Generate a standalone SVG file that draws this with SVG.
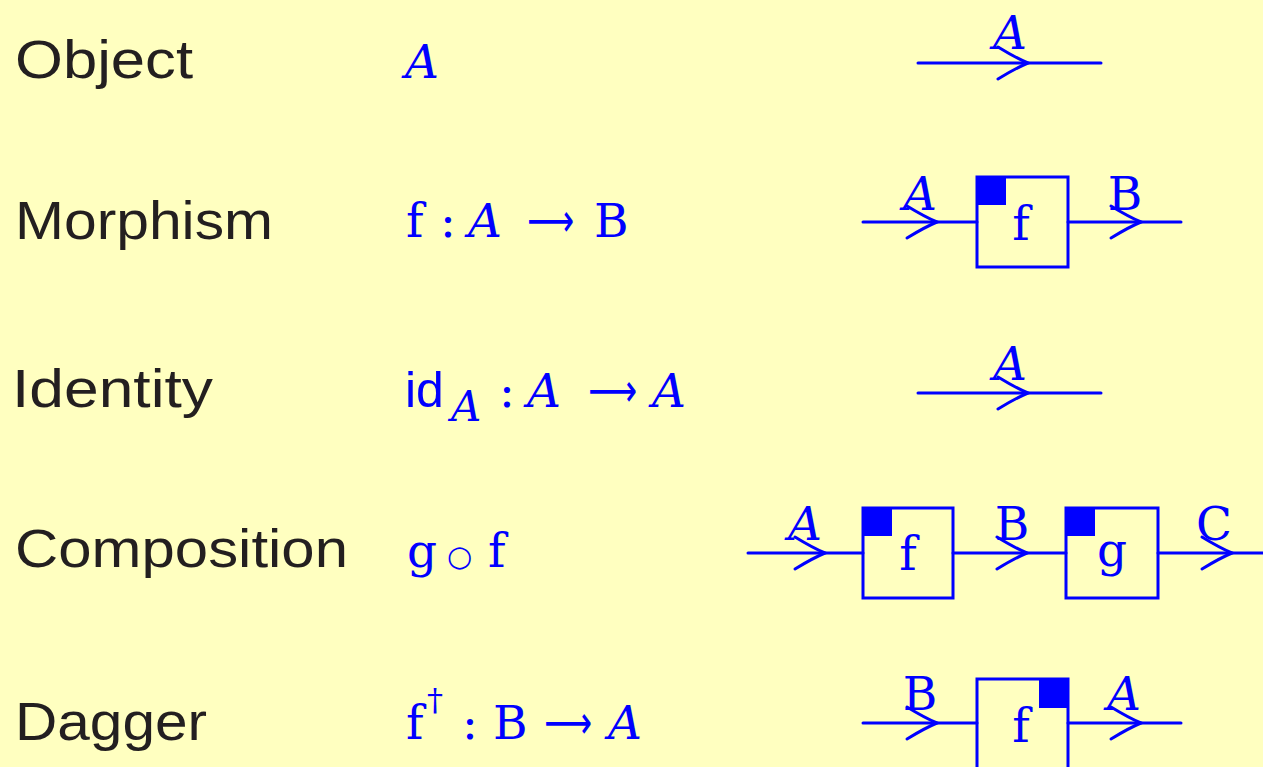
<svg xmlns="http://www.w3.org/2000/svg" width="1263" height="767" viewBox="0 0 1263 767">
<style>
.lbl{font-family:"Liberation Sans",Arial,sans-serif;font-size:53px;fill:#231f20;}
.m{font-family:"DejaVu Serif","Liberation Serif",serif;font-size:47px;fill:#0000ff;}
.mi{font-family:"DejaVu Serif","Liberation Serif",serif;font-size:47px;font-style:italic;fill:#0000ff;}
.sym{font-family:"DejaVu Sans",sans-serif;font-size:46px;fill:#0000ff;}
.sid{font-family:"Liberation Sans",Arial,sans-serif;font-size:50px;fill:#0000ff;}
.w{stroke:#0000ff;stroke-width:3;fill:none;stroke-linecap:round;}
.box{stroke:#0000ff;stroke-width:3;fill:none;}
.fill{fill:#0000ff;}
.dl{font-family:"DejaVu Serif","Liberation Serif",serif;font-size:47px;fill:#0000ff;text-anchor:middle;}
.dli{font-family:"DejaVu Serif","Liberation Serif",serif;font-size:47px;font-style:italic;fill:#0000ff;text-anchor:middle;}
</style>
<defs>
<path id="chev" d="M -30,-16 Q -12,-5 0,0 Q -12,5 -30,16" fill="none" stroke="#0000ff" stroke-width="3" stroke-linecap="round"/>
</defs>
<rect width="1263" height="767" fill="#ffffc0"/>

<g id="row-labels">
<text class="lbl" x="15" y="78" textLength="178" lengthAdjust="spacingAndGlyphs">Object</text>
<text class="lbl" x="15" y="239" textLength="258" lengthAdjust="spacingAndGlyphs">Morphism</text>
<text class="lbl" x="12" y="407" textLength="201" lengthAdjust="spacingAndGlyphs">Identity</text>
<text class="lbl" x="15" y="567" textLength="333" lengthAdjust="spacingAndGlyphs">Composition</text>
<text class="lbl" x="15" y="740" textLength="192" lengthAdjust="spacingAndGlyphs">Dagger</text>
</g>

<g id="formulas">
<text class="mi" x="405" y="78">A</text>

<text class="m" x="406" y="237">f</text>
<text class="m" x="440" y="237">:</text>
<text class="mi" x="468" y="237">A</text>
<text class="sym" x="527" y="236" textLength="47" lengthAdjust="spacingAndGlyphs">⟶</text>
<text class="m" x="594" y="237">B</text>

<text class="sid" x="405" y="407">id</text>
<text class="mi" x="451" y="421" style="font-size:42px">A</text>
<text class="m" x="499" y="407">:</text>
<text class="mi" x="527" y="407">A</text>
<text class="sym" x="588" y="406" textLength="49" lengthAdjust="spacingAndGlyphs">⟶</text>
<text class="mi" x="652" y="407">A</text>

<text class="m" x="407" y="567">g</text>
<text class="sym" x="447" y="566" style="font-size:29px">○</text>
<text class="m" x="488" y="567">f</text>

<text class="m" x="406" y="739">f</text>
<text class="m" x="427" y="711" style="font-size:32px">†</text>
<text class="m" x="462" y="739">:</text>
<text class="m" x="493" y="739">B</text>
<text class="sym" x="544" y="738" textLength="48" lengthAdjust="spacingAndGlyphs">⟶</text>
<text class="mi" x="608" y="739">A</text>
</g>

<g id="connectors">
<line class="w" x1="918" y1="63" x2="1101" y2="63"/>
<use href="#chev" x="1028" y="63"/>

<line class="w" x1="863" y1="222" x2="977" y2="222"/>
<use href="#chev" x="937" y="222"/>
<line class="w" x1="1068" y1="222" x2="1181" y2="222"/>
<use href="#chev" x="1141" y="222"/>

<line class="w" x1="918" y1="393" x2="1101" y2="393"/>
<use href="#chev" x="1028" y="393"/>

<line class="w" x1="748" y1="553" x2="863" y2="553"/>
<use href="#chev" x="825" y="553"/>
<line class="w" x1="953" y1="553" x2="1066" y2="553"/>
<use href="#chev" x="1027" y="553"/>
<line class="w" x1="1158" y1="553" x2="1265" y2="553"/>
<use href="#chev" x="1232" y="553"/>

<line class="w" x1="863" y1="723" x2="977" y2="723"/>
<use href="#chev" x="937" y="723"/>
<line class="w" x1="1068" y1="723" x2="1181" y2="723"/>
<use href="#chev" x="1141" y="723"/>
</g>

<g id="wire-labels">
<text class="dli" x="1010" y="49">A</text>
<text class="dli" x="920" y="210">A</text>
<text class="dl" x="1125" y="210">B</text>
<text class="dli" x="1010" y="380">A</text>
<text class="dli" x="805" y="540">A</text>
<text class="dl" x="1012" y="540">B</text>
<text class="dl" x="1214" y="540">C</text>
<text class="dl" x="920" y="710">B</text>
<text class="dli" x="1124" y="710">A</text>
</g>

<g id="box-f-morphism">
<rect class="box" x="977" y="177" width="91" height="90"/>
<rect class="fill" x="977" y="177" width="29" height="28"/>
<text class="dl" x="1021" y="240">f</text>
</g>

<g id="box-f-composition">
<rect class="box" x="863" y="508" width="90" height="90"/>
<rect class="fill" x="863" y="508" width="29" height="28"/>
<text class="dl" x="908" y="570">f</text>
</g>

<g id="box-g-composition">
<rect class="box" x="1066" y="508" width="92" height="90"/>
<rect class="fill" x="1066" y="508" width="29" height="28"/>
<text class="dl" x="1112" y="566">g</text>
</g>

<g id="box-f-dagger">
<rect class="box" x="977" y="679" width="91" height="92"/>
<rect class="fill" x="1039" y="679" width="29" height="29"/>
<text class="dl" x="1021" y="742">f</text>
</g>
</svg>
